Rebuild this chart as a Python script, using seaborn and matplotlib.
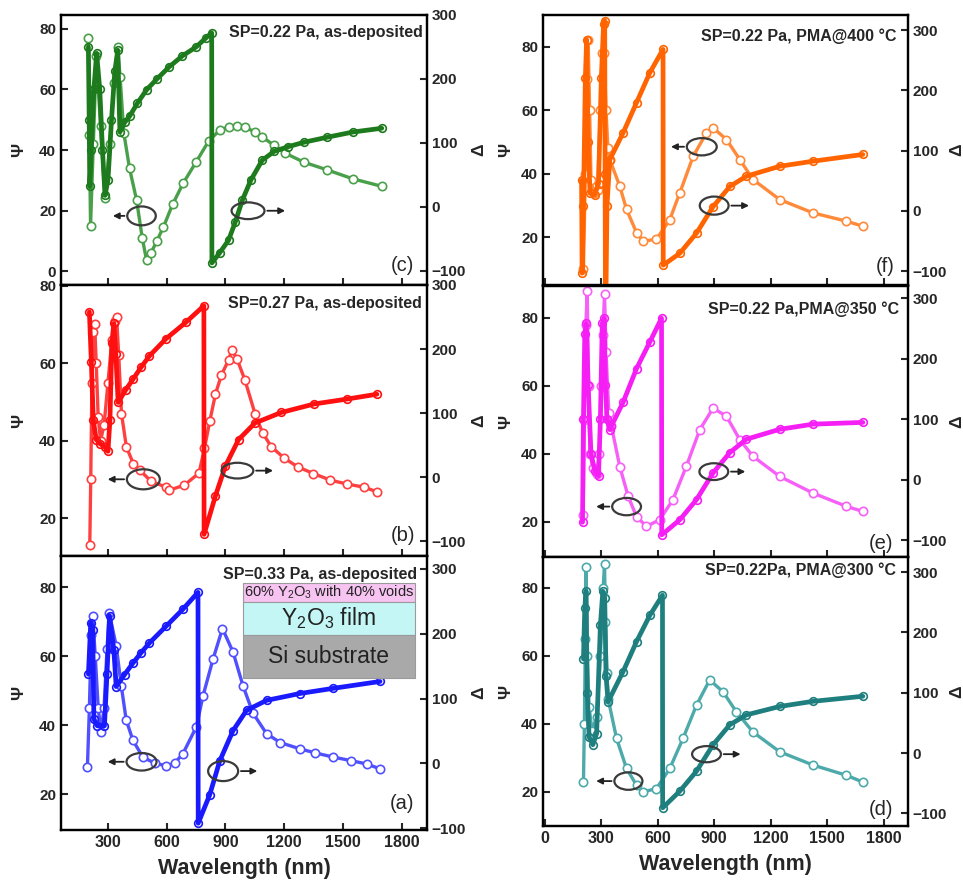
import matplotlib
matplotlib.use("Agg")
import matplotlib.pyplot as plt
from matplotlib.patches import Ellipse, Rectangle
import seaborn as sns

# ---------------- data ----------------
# (c) SP=0.22 Pa, as-deposited
wl_c_psi = [199, 205, 211, 225, 241, 262, 285, 310, 330, 349, 362, 381, 410, 446, 475, 497, 520, 550, 583, 630,
            684, 750, 815, 870, 916, 960, 1000, 1050, 1088, 1150, 1204, 1300, 1421, 1550, 1699]
psi_c = [77, 45, 15, 42, 71, 48, 24, 42, 62, 74, 64, 45.6, 34, 23.5, 11, 3.6, 6, 10, 14.5, 22,
         29, 36, 43, 46.5, 47.6, 48, 47.5, 46, 44.3, 41.5, 39, 36, 33.4, 30.5, 28]
wl_c_delta = [200, 204, 207, 215, 228, 242, 258, 272, 285, 300, 318, 335, 350, 361, 385, 411, 450, 497, 550, 613,
              680, 750, 800, 830, 831, 870, 916, 950, 987, 1030, 1088, 1150, 1219, 1300, 1421, 1550, 1699]
delta_c = [250, 136, 32, 89, 184, 240, 184, 89, 18, 42, 136, 212, 245, 117, 132, 142, 162, 183, 200, 219,
           236, 250, 264, 272, -87.5, -72, -52, -24, 11, 42, 73, 87, 94, 101, 109, 117, 123]

# (b) SP=0.27 Pa, as-deposited
wl_b_psi = [207, 212, 218, 225, 232, 240, 250, 262, 280, 300, 320, 335, 344, 355, 369, 394, 430, 462, 520, 596,
            613, 690, 765, 793, 820, 849, 880, 916, 933, 960, 1000, 1051, 1090, 1135, 1200, 1270, 1350, 1436,
            1520, 1606, 1674]
psi_b = [13, 30, 55, 68, 70, 60, 46, 40, 44, 55, 66, 71, 72, 62, 47, 38.4, 34, 32.4, 29.5, 28,
         27.2, 28.5, 31.6, 38, 45, 52, 57, 60.8, 63.4, 61, 55.6, 47, 42, 38.4, 35.5, 33.2, 31.5, 29.8,
         28.8, 28, 26.8]
wl_b_delta = [205, 215, 225, 240, 260, 285, 300, 310, 320, 330, 340, 352, 390, 428, 470, 512, 596, 697, 790, 791,
              849, 900, 967, 1051, 1185, 1354, 1522, 1674]
delta_b = [258, 180, 89, 58.6, 52.5, 46.5, 40.4, 89, 210, 240, 192, 116.7, 136, 153, 172, 189.4, 216, 241.5, 267.5,
           -89.2, -29.2, 17.4, 58.6, 84.6, 101, 114.3, 122, 129.5]

# (a) SP=0.33 Pa, as-deposited
wl_a_psi = [195, 205, 215, 222, 235, 250, 265, 280, 295, 307, 342, 368, 393, 427, 478, 540, 598, 640, 683, 752,
            785, 837, 885, 939, 990, 1041, 1110, 1180, 1280, 1360, 1451, 1540, 1622, 1690]
psi_a = [28, 45, 66, 71.7, 60, 45, 38, 45, 62, 72.4, 63, 51.4, 41.6, 35.7, 30.8, 29, 28.3, 29, 31.8, 39.6,
         48.4, 59.2, 68, 61.2, 51.4, 43.5, 37.6, 35, 33.2, 32, 30.8, 29.8, 28.8, 27.4]
wl_a_delta = [200, 212, 222, 228, 246, 282, 295, 308, 330, 342, 385, 427, 470, 512, 598, 683, 760, 761,
              820, 871, 939, 1008, 1110, 1280, 1451, 1690]
delta_a = [137.5, 217.2, 206.5, 68.4, 57.8, 57.8, 137.5, 227.8, 174.7, 118.4, 137, 154.5, 171, 185.8, 211.9, 237.9,
           263.9, -92.5, -48.5, 3.6, 50.4, 81.7, 97.1, 107.7, 115.7, 126.3]

# (f) SP=0.22 Pa, PMA@400 C
wl_f_psi = [205, 215, 225, 230, 238, 245, 260, 280, 295, 305, 315, 325, 335, 345, 398, 434, 487, 522, 593, 664,
            717, 788, 859, 894, 965, 1036, 1106, 1248, 1425, 1602, 1690]
psi_f = [10, 40, 70, 82, 60, 38, 34, 35, 60, 78, 78, 60, 48, 44.5, 36.1, 28.8, 21.5, 18.8, 19.4, 25.6,
         34, 45.5, 52.9, 54.5, 50.8, 44.5, 38.2, 31.9, 27.7, 25.1, 23.5]
wl_f_delta = [195, 198, 205, 215, 222, 230, 240, 265, 285, 300, 312, 318, 320, 322, 323, 330, 345, 416, 487, 558,
              628, 629, 717, 806, 894, 983, 1071, 1248, 1425, 1690]
delta_f = [50.6, -103.3, 8.2, 220.4, 284, 114, 29.4, 26.7, 45.3, 220.4, 310.5, 315.8, 61.2, -140.4, -183, 8.2,
           85, 129.6, 179.5, 229.4, 268, -90, -70.4, -36.9, 7.1, 40.5, 57.5, 74, 82.4, 93.6]

# (e) SP=0.22 Pa, PMA@350 C
wl_e_psi = [203, 210, 218, 225, 232, 240, 255, 275, 290, 300, 308, 317, 325, 340, 354, 398, 443, 487, 540, 611,
            681, 752, 823, 894, 965, 1036, 1106, 1248, 1425, 1602, 1690]
psi_e = [22, 50, 78, 88, 60, 40, 36, 34, 40, 60, 75, 87, 70, 52, 48.1, 36.3, 27.5, 21.6, 18.7, 20.7,
         26.6, 36.4, 47.1, 53.5, 51.1, 44.2, 39.3, 33.4, 28.5, 24.6, 23.1]
wl_e_delta = [200, 205, 212, 220, 230, 245, 265, 285, 295, 305, 315, 322, 330, 345, 354, 416, 487, 558, 620, 621,
              717, 806, 894, 983, 1071, 1248, 1425, 1690]
delta_e = [-70.5, 99.5, 241.2, 258.2, 156.2, 42.9, 14.5, 6, 99.5, 258.2, 266.7, 156.2, 99.5, 82.5, 88.8,
           127.9, 183.4, 227.6, 266.7, -91.4, -66.5, -33.1, 11.1, 44.6, 66.7, 83.1, 91.6, 94.5]

# (d) SP=0.22Pa, PMA@300 C
wl_d_psi = [205, 210, 215, 219, 225, 235, 250, 275, 295, 310, 317, 322, 330, 336, 381, 434, 487, 522, 593, 664,
            734, 806, 876, 947, 1018, 1106, 1248, 1425, 1602, 1690]
psi_d = [23, 40, 65, 86, 60, 45, 38, 42, 60, 80, 87, 70, 55, 47.4, 35.7, 26.9, 22, 20, 21, 26.9,
         35.7, 45.5, 52.9, 49.4, 43.5, 37.6, 31.8, 27.9, 24.9, 22.9]
wl_d_delta = [205, 212, 219, 225, 235, 255, 275, 295, 308, 318, 325, 336, 416, 487, 558, 625, 626, 717, 806,
              894, 983, 1071, 1248, 1425, 1690]
delta_d = [155.9, 240.2, 268.3, 99.7, 26.6, 13.7, 32.3, 212.1, 268.3, 257, 127.8, 85.1, 135.1, 184.6, 228.4,
           261.6, -90.8, -63.3, -30.1, 13.7, 46.9, 63.2, 77.2, 85.7, 94.1]

titles = ["SP=0.22 Pa, as-deposited", "SP=0.27 Pa, as-deposited", "SP=0.33 Pa, as-deposited",
          "SP=0.22 Pa, PMA@400 °C", "SP=0.22 Pa,PMA@350 °C", "SP=0.22Pa, PMA@300 °C"]
letters = ["(c)", "(b)", "(a)", "(f)", "(e)", "(d)"]
left_xticks = [300, 600, 900, 1200, 1500, 1800]
right_xticks = [0, 300, 600, 900, 1200, 1500, 1800]
psi_ticks_c = [0, 20, 40, 60, 80]
psi_ticks = [20, 40, 60, 80]
delta_ticks = [-100, 0, 100, 200, 300]

# ---------------- style ----------------
sns.set_style("ticks")
plt.rcParams["font.family"] = ["Liberation Sans", "DejaVu Sans"]
plt.rcParams["mathtext.default"] = "regular"

W, H = 963, 881
fig = plt.figure(figsize=(W / 100, H / 100), dpi=100)


def rect(x0, y0, x1, y1):
    return [x0 / W, 1 - y1 / H, (x1 - x0) / W, (y1 - y0) / H]


panels = [
    dict(wp=wl_c_psi, p=psi_c, wd=wl_c_delta, d=delta_c, col="#1d7a1d", mk="#4aa04a",
         box=rect(61, 15, 427, 285), xlim=(60, 1930), pl=(-4.6, 84.6), dl=(-122, 300), pt=psi_ticks_c,
         xt=left_xticks, bottom=False, t=(0.989, 0.937), lt=(0.934, 0.074), lab=(-0.096, 1.122),
         e1=(0.220, 0.256, 0.078, 0.070, 0.134), e2=(0.511, 0.275, 0.09, 0.062, 0.62)),
    dict(wp=wl_b_psi, p=psi_b, wd=wl_b_delta, d=delta_b, col="#ff1010", mk="#ff4040",
         box=rect(61, 285, 427, 556), xlim=(60, 1930), pl=(10.2, 80.2), dl=(-123, 300), pt=psi_ticks,
         xt=left_xticks, bottom=False, t=(0.985, 0.932), lt=(0.935, 0.077), lab=(-0.096, 1.122),
         e1=(0.225, 0.283, 0.09, 0.074, 0.12), e2=(0.482, 0.315, 0.087, 0.058, 0.587)),
    dict(wp=wl_a_psi, p=psi_a, wd=wl_a_delta, d=delta_a, col="#1a1aff", mk="#5050ff",
         box=rect(61, 556, 427, 830), xlim=(60, 1930), pl=(9.7, 89), dl=(-103, 320), pt=psi_ticks,
         xt=left_xticks, bottom=True, t=(0.972, 0.931), lt=(0.931, 0.097), lab=(-0.096, 1.122),
         e1=(0.220, 0.249, 0.082, 0.064, 0.12), e2=(0.443, 0.215, 0.082, 0.073, 0.544)),
    dict(wp=wl_f_psi, p=psi_f, wd=wl_f_delta, d=delta_f, col="#ff6400", mk="#ff8a3a",
         box=rect(543, 15, 908, 285), xlim=(-10, 1930), pl=(5, 90), dl=(-123, 325), pt=psi_ticks,
         xt=right_xticks, bottom=False, t=(0.969, 0.922), lt=(0.937, 0.068), lab=(-0.082, 1.112),
         e1=(0.435, 0.512, 0.082, 0.064, 0.343), e2=(0.469, 0.294, 0.079, 0.067, 0.572)),
    dict(wp=wl_e_psi, p=psi_e, wd=wl_e_delta, d=delta_e, col="#f51ef5", mk="#f760f7",
         box=rect(543, 286, 908, 557), xlim=(-10, 1930), pl=(9.7, 89.4), dl=(-128, 320), pt=psi_ticks,
         xt=right_xticks, bottom=False, t=(0.975, 0.914), lt=(0.927, 0.05), lab=(-0.082, 1.112),
         e1=(0.229, 0.186, 0.079, 0.064, 0.138), e2=(0.468, 0.315, 0.079, 0.062, 0.562)),
    dict(wp=wl_d_psi, p=psi_d, wd=wl_d_delta, d=delta_d, col="#1f7f7f", mk="#4eaaaa",
         box=rect(543, 557, 908, 826), xlim=(-10, 1930), pl=(10, 89), dl=(-121, 325), pt=psi_ticks,
         xt=right_xticks, bottom=True, t=(0.968, 0.952), lt=(0.927, 0.06), lab=(-0.082, 1.112),
         e1=(0.234, 0.167, 0.077, 0.065, 0.138), e2=(0.448, 0.267, 0.079, 0.06, 0.549)),
]

for i, P in enumerate(panels):
    ax = fig.add_axes(P["box"])
    ax2 = ax.twinx()
    sns.lineplot(x=P["wp"], y=P["p"], ax=ax, sort=False, estimator=None, color=P["mk"], lw=2.4,
                 marker="o", markersize=6, markerfacecolor="white", markeredgecolor=P["mk"],
                 markeredgewidth=1.2)
    sns.lineplot(x=P["wd"], y=P["d"], ax=ax2, sort=False, estimator=None, color=P["col"], lw=3.4,
                 marker="o", markersize=5.5, markerfacecolor="none", markeredgecolor=P["col"],
                 markeredgewidth=1.2)
    ax.set_xlim(*P["xlim"])
    ax.set_ylim(*P["pl"])
    ax2.set_ylim(*P["dl"])
    ax.set_xticks(P["xt"])
    ax.set_yticks(P["pt"])
    ax2.set_yticks(delta_ticks)
    for a in (ax, ax2):
        a.tick_params(direction="in", length=5, width=1.5, labelsize=11)
        for lab in a.get_yticklabels() + a.get_xticklabels():
            lab.set_fontweight("bold")
        for s in a.spines.values():
            s.set_linewidth(1.6)
            s.set_color("black")
    ax.tick_params(axis="x", labelbottom=P["bottom"], labelsize=11.5)
    ax.set_ylabel("Ψ", fontsize=12.5, fontweight="bold")
    ax2.set_ylabel("Δ", fontsize=12.5, fontweight="bold")
    ax.yaxis.set_label_coords(P["lab"][0], 0.5)
    ax2.yaxis.set_label_coords(P["lab"][1], 0.5)
    if P["bottom"]:
        ax.set_xlabel("Wavelength (nm)", fontsize=15.5, fontweight="bold", labelpad=6)
    else:
        ax.set_xlabel("")

    ax2.text(P["t"][0], P["t"][1], titles[i], transform=ax2.transAxes, ha="right", va="center",
             fontsize=11.5, fontweight="bold")
    ax2.text(P["lt"][0], P["lt"][1], letters[i], transform=ax2.transAxes, ha="center", va="center",
             fontsize=14.5)

    # indicator ellipses and arrows
    cx, cy, ew, eh, head = P["e1"]
    ax2.add_patch(Ellipse((cx, cy), ew, eh, transform=ax2.transAxes, fill=False,
                          edgecolor="#3a3a3a", lw=1.6, zorder=6))
    ax2.annotate("", xy=(head, cy), xytext=(cx - ew / 2, cy), xycoords="axes fraction",
                 arrowprops=dict(arrowstyle="-|>", color="#222222", lw=1.3, mutation_scale=9), zorder=6)
    cx, cy, ew, eh, head = P["e2"]
    ax2.add_patch(Ellipse((cx, cy), ew, eh, transform=ax2.transAxes, fill=False,
                          edgecolor="#3a3a3a", lw=1.6, zorder=6))
    ax2.annotate("", xy=(head, cy), xytext=(cx + ew / 2, cy), xycoords="axes fraction",
                 arrowprops=dict(arrowstyle="-|>", color="#222222", lw=1.3, mutation_scale=9), zorder=6)

    if letters[i] == "(a)":
        x0, x1 = 0.497, 0.967
        layers = [(0.832, 0.901, "#f7c4f2", "60% Y$_2$O$_3$ with 40% voids", 10.5),
                  (0.712, 0.832, "#c4f6f6", "Y$_2$O$_3$ film", 16.5),
                  (0.555, 0.712, "#a9a9a9", "Si substrate", 16.5)]
        for y0, y1, fc, txt, fs in layers:
            ax2.add_patch(Rectangle((x0, y0), x1 - x0, y1 - y0, transform=ax2.transAxes,
                                    facecolor=fc, edgecolor="#9a9a9a", lw=0.8, zorder=5))
            ax2.text((x0 + x1) / 2, (y0 + y1) / 2, txt, transform=ax2.transAxes, ha="center",
                     va="center", fontsize=fs, zorder=7, color="#222222")

fig.savefig("out.png", dpi=100)
